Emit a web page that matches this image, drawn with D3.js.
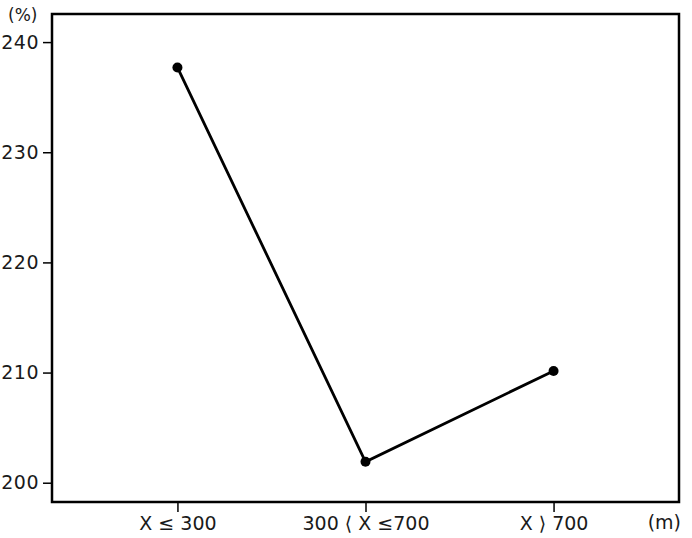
<!DOCTYPE html>
<html lang="ko">
<head>
<meta charset="UTF-8" />
<title>Line chart</title>
<script src="https://d3js.org/d3.v7.min.js"></script>
<style>
  body { margin: 0; background: #fff; }
  svg { display: block; }
  text { font-family: "DejaVu Sans", sans-serif; fill: #1a1a1a; }
</style>
</head>
<body>
<script>
// categories (distance, m) and values (%)
const categories = ["X ≤ 300", "300 ⟨ X ≤700", "X ⟩ 700"];
const values = [237.7, 201.9, 210.15];
const yTicks = [200, 210, 220, 230, 240];

const width = 692, height = 538;
const margin = { top: 14, right: 13, bottom: 36, left: 52 };

const svg = d3.select("body").append("svg")
  .attr("width", width)
  .attr("height", height);

const x = d3.scalePoint()
  .domain(categories)
  .range([margin.left, width - margin.right])
  .padding(0.667);

const y = d3.scaleLinear()
  .domain([198.25, 242.55])
  .range([height - margin.bottom, margin.top]);

// frame
svg.append("rect")
  .attr("x", margin.left)
  .attr("y", margin.top)
  .attr("width", width - margin.left - margin.right)
  .attr("height", height - margin.top - margin.bottom)
  .attr("fill", "none")
  .attr("stroke", "#000")
  .attr("stroke-width", 2.5);

// y axis
const yAxis = svg.append("g")
  .attr("transform", `translate(${margin.left},0)`)
  .call(d3.axisLeft(y).tickValues(yTicks).tickSize(9).tickPadding(4));
yAxis.select(".domain").remove();
yAxis.selectAll("line").attr("stroke", "#000").attr("stroke-width", 1.5);
yAxis.selectAll("text")
  .style("font-size", "19px")
  .style("letter-spacing", "0.5px")
  .attr("fill", "#1a1a1a")
  .style("font-family", "DejaVu Sans, sans-serif");

// x axis
const xAxis = svg.append("g")
  .attr("transform", `translate(0,${height - margin.bottom})`)
  .call(d3.axisBottom(x).tickSize(10).tickPadding(5));
xAxis.select(".domain").remove();
xAxis.selectAll("line").attr("stroke", "#000").attr("stroke-width", 1.5);
xAxis.selectAll("text")
  .style("font-size", "19px")
  .attr("fill", "#1a1a1a")
  .style("font-family", "DejaVu Sans, sans-serif");

// unit labels
svg.append("text")
  .attr("x", 8)
  .attr("y", 21)
  .style("font-size", "17px")
  .text("(%)");

svg.append("text")
  .attr("x", width - 11)
  .attr("y", 529)
  .attr("text-anchor", "end")
  .style("font-size", "19px")
  .text("(m)");

// line + markers
const pts = categories.map((c, i) => ({ c, v: values[i] }));

svg.append("path")
  .datum(pts)
  .attr("fill", "none")
  .attr("stroke", "#000")
  .attr("stroke-width", 2.8)
  .attr("d", d3.line().x(d => x(d.c)).y(d => y(d.v)));

svg.selectAll("circle.pt")
  .data(pts)
  .enter()
  .append("circle")
  .attr("class", "pt")
  .attr("cx", d => x(d.c))
  .attr("cy", d => y(d.v))
  .attr("r", 5)
  .attr("fill", "#000");
</script>
</body>
</html>
